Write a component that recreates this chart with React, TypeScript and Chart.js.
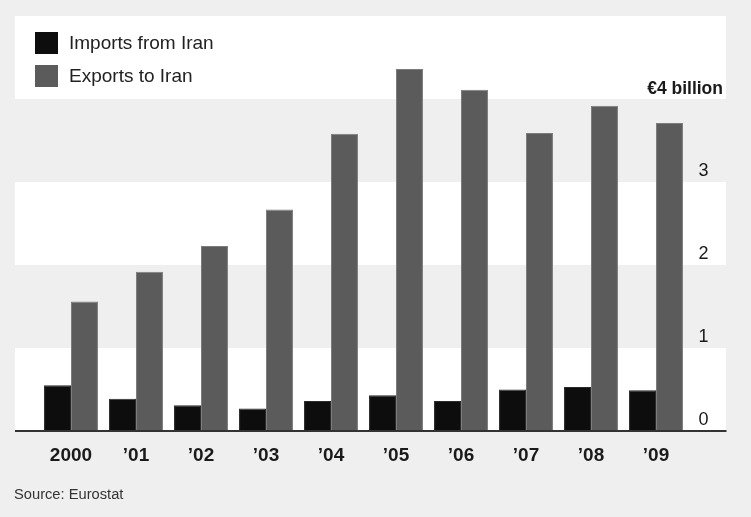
import React, { useEffect, useRef } from 'react';
import { Chart, registerables } from 'chart.js';

Chart.register(...registerables);

const categories = ['2000', '’01', '’02', '’03', '’04', '’05', '’06', '’07', '’08', '’09'];
const seriesLabels = ['Imports from Iran', 'Exports to Iran'];
const importsFromIran = [0.55, 0.39, 0.31, 0.27, 0.36, 0.43, 0.36, 0.5, 0.53, 0.49];
const exportsToIran = [1.56, 1.92, 2.23, 2.67, 3.58, 4.36, 4.11, 3.59, 3.92, 3.71];
const yTickLabels = ['0', '1', '2', '3', '€4 billion'];
const seriesColors = ['#0d0d0d', '#5b5b5b'];
const seriesBorders = ['#2a2a2a', '#7c7c7c'];
const sourceText = 'Source: Eurostat';

const BG = '#efefef';
const SANS = '"Liberation Sans", Arial, sans-serif';

const decorPlugin = {
  id: 'decor',
  beforeDraw(chart: any) {
    const { ctx, chartArea } = chart;
    const y = chart.scales.y;
    ctx.save();
    ctx.fillStyle = BG;
    ctx.fillRect(0, 0, chart.width, chart.height);
    const left = chartArea.left - 23.5;
    const right = chartArea.right + 37.5;
    for (let v = 0; v < 5; v++) {
      const top = y.getPixelForValue(v + 1);
      const bottom = y.getPixelForValue(v);
      ctx.fillStyle = v % 2 === 0 ? '#ffffff' : BG;
      ctx.fillRect(left, top, right - left, bottom - top);
    }
    ctx.restore();
  },
  afterDatasetsDraw(chart: any) {
    const { ctx, chartArea } = chart;
    const y = chart.scales.y;
    const y0 = y.getPixelForValue(0);
    ctx.save();
    ctx.strokeStyle = '#333333';
    ctx.lineWidth = 2;
    ctx.beginPath();
    ctx.moveTo(chartArea.left - 23.5, y0);
    ctx.lineTo(chartArea.right + 38, y0);
    ctx.stroke();
    ctx.restore();
  },
  afterDraw(chart: any) {
    const { ctx, chartArea } = chart;
    const y = chart.scales.y;
    ctx.save();
    // top unit label
    ctx.font = `bold 17.5px ${SANS}`;
    ctx.fillStyle = '#1a1a1a';
    ctx.textAlign = 'right';
    ctx.textBaseline = 'alphabetic';
    ctx.fillText(yTickLabels[4], chartArea.right + 34.5, y.getPixelForValue(4) - 5);
    // legend
    ctx.textAlign = 'left';
    ctx.textBaseline = 'middle';
    ctx.font = `19px ${SANS}`;
    chart.data.datasets.forEach((ds: any, i: number) => {
      const cy = 43 + i * 33;
      ctx.fillStyle = ds.backgroundColor;
      ctx.fillRect(35, cy - 11, 23, 22);
      ctx.fillStyle = '#222222';
      ctx.fillText(ds.label, 69, cy + 1);
    });
    ctx.restore();
  },
};

export default function App() {
  const canvasRef = useRef<HTMLCanvasElement | null>(null);

  useEffect(() => {
    if (!canvasRef.current) return;
    const chart = new Chart(canvasRef.current, {
      type: 'bar',
      data: {
        labels: categories,
        datasets: [
          {
            label: seriesLabels[0],
            data: importsFromIran,
            backgroundColor: seriesColors[0],
            borderColor: seriesBorders[0],
            borderWidth: 1,
            barPercentage: 1,
            categoryPercentage: 0.83,
          },
          {
            label: seriesLabels[1],
            data: exportsToIran,
            backgroundColor: seriesColors[1],
            borderColor: seriesBorders[1],
            borderWidth: 1,
            barPercentage: 1,
            categoryPercentage: 0.83,
          },
        ],
      },
      options: {
        animation: false,
        responsive: false,
        maintainAspectRatio: false,
        devicePixelRatio: 1,
        layout: { padding: { left: 38.5, top: 16, right: 0, bottom: 0 } },
        plugins: {
          legend: { display: false },
          tooltip: { enabled: false },
          title: { display: false },
        },
        scales: {
          x: {
            grid: { display: false, drawTicks: false, tickLength: 0 },
            border: { display: false },
            ticks: {
              color: '#1a1a1a',
              padding: 13,
              font: { family: SANS, size: 19, weight: 'bold' },
              maxRotation: 0,
            },
            afterFit: (s: any) => {
              s.height = 86;
              s.paddingLeft = 0;
              s.paddingRight = 0;
            },
          },
          y: {
            position: 'right',
            min: 0,
            max: 5,
            grid: { display: false, drawTicks: false, tickLength: 0 },
            border: { display: false },
            ticks: {
              stepSize: 1,
              padding: 10,
              labelOffset: -11,
              color: '#1a1a1a',
              font: { family: SANS, size: 18 },
              callback: (v: any) => (Number(v) < 4 ? yTickLabels[Number(v)] : ''),
            },
            afterFit: (s: any) => {
              s.width = 62.5;
              s.paddingTop = 0;
              s.paddingBottom = 0;
            },
          },
        },
      },
      plugins: [decorPlugin],
    } as any);
    return () => chart.destroy();
  }, []);

  return (
    <div style={{ position: 'absolute', left: 0, top: 0, width: 751, height: 517, background: BG, overflow: 'hidden' }}>
      <canvas ref={canvasRef} width={751} height={517} style={{ display: 'block', width: 751, height: 517 }} />
      <div
        style={{
          position: 'absolute',
          left: 14,
          top: 486,
          fontFamily: SANS,
          fontSize: 14.7,
          lineHeight: '17px',
          color: '#333333',
          whiteSpace: 'nowrap',
        }}
      >
        {sourceText}
      </div>
    </div>
  );
}
